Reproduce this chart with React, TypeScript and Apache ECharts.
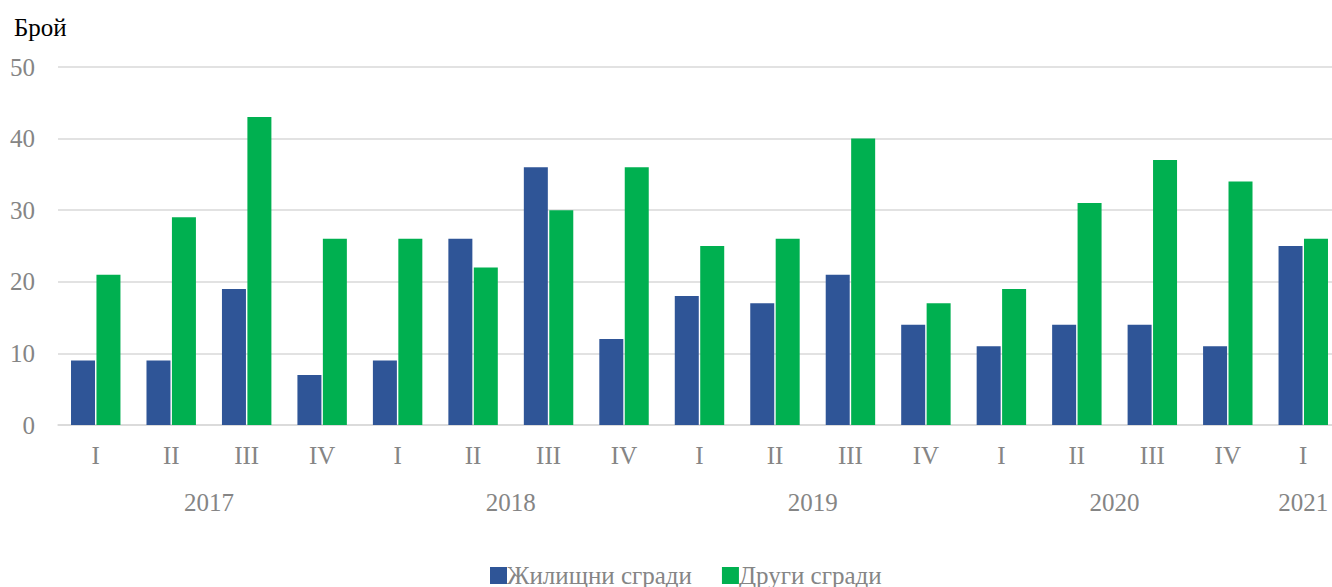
import React, { useEffect, useRef } from "react";
import * as echarts from "echarts";

const quarters = ["I", "II", "III", "IV", "I", "II", "III", "IV", "I", "II", "III", "IV", "I", "II", "III", "IV", "I"];
const yearLabels = ["2017", "2018", "2019", "2020", "2021"];
const yearPositions = [1.5, 5.5, 9.5, 13.5, 16];
const residential = [9, 9, 19, 7, 9, 26, 36, 12, 18, 17, 21, 14, 11, 14, 14, 11, 25];
const other = [21, 29, 43, 26, 26, 22, 30, 36, 25, 26, 40, 17, 19, 31, 37, 34, 26];
const seriesNames = ["Жилищни сгради", "Други сгради"];
const yTitle = "Брой";

const FONT = "'Liberation Serif', 'Times New Roman', serif";
const GRAY = "#858585";

export default function App() {
  const ref = useRef<HTMLDivElement>(null);
  useEffect(() => {
    document.body.style.margin = "0";
    const chart = echarts.init(ref.current!, undefined, { renderer: "svg" });
    chart.setOption({
      animation: false,
      backgroundColor: "#ffffff",
      title: {
        text: yTitle,
        left: 14,
        top: 15,
        padding: 0,
        textStyle: { fontFamily: FONT, fontSize: 25, fontWeight: "normal", color: "#000" },
      },
      legend: {
        bottom: -1,
        left: 490,
        padding: 0,
        itemWidth: 17,
        itemHeight: 17,
        itemGap: 30,
        icon: "rect",
        textStyle: { fontFamily: FONT, fontSize: 25, color: GRAY, padding: [0, 0, 0, -5] },
        data: seriesNames,
      },
      grid: {
        left: 58,
        width: 1283,
        top: 67,
        bottom: 162,
        containLabel: false,
        outerBoundsMode: "none",
      },
      xAxis: [
        {
          type: "category",
          data: quarters,
          axisLine: { lineStyle: { color: "#d9d9d9", width: 1.5 } },
          axisTick: { show: false },
          axisLabel: { fontFamily: FONT, fontSize: 25, color: GRAY, margin: 18, interval: 0 },
        },
        {
          type: "value",
          min: -0.5,
          max: 16.5,
          position: "bottom",
          axisLine: { show: false },
          axisTick: { show: false },
          splitLine: { show: false },
          axisLabel: {
            customValues: yearPositions,
            formatter: (v: number) => {
              const i = yearPositions.indexOf(v);
              return i >= 0 ? yearLabels[i] : "";
            },
            fontFamily: FONT,
            fontSize: 25,
            color: GRAY,
            margin: 65,
          },
        },
      ],
      yAxis: {
        type: "value",
        min: 0,
        max: 50,
        interval: 10,
        axisLine: { show: false },
        axisTick: { show: false },
        splitLine: { lineStyle: { color: "#d9d9d9", width: 1.5 } },
        axisLabel: { fontFamily: FONT, fontSize: 25, color: GRAY, margin: 23 },
      },
      series: [
        {
          name: seriesNames[0],
          type: "bar",
          data: residential,
          barWidth: 24,
          barGap: "6%",
          itemStyle: { color: "#2F5597" },
        },
        {
          name: seriesNames[1],
          type: "bar",
          data: other,
          barWidth: 24,
          barGap: "6%",
          itemStyle: { color: "#00B050" },
        },
      ],
    });
    return () => chart.dispose();
  }, []);
  return <div ref={ref} style={{ width: 1332, height: 587 }} />;
}
